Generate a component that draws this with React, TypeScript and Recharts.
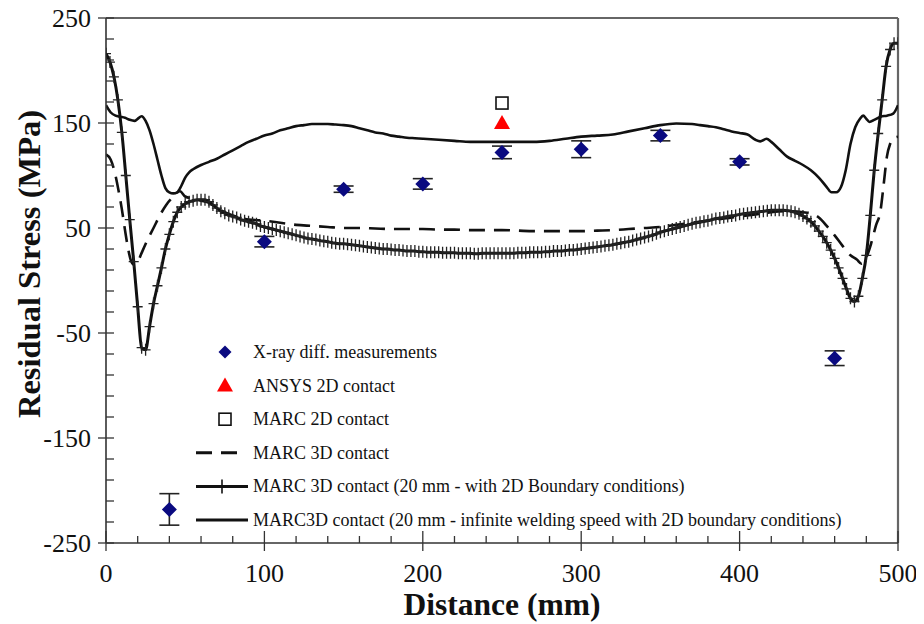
import React from 'react';
import {
  ComposedChart,
  Line,
  Scatter,
  XAxis,
  YAxis,
  ErrorBar,
  ReferenceLine,
  Customized,
} from 'recharts';

// ---- data ----------------------------------------------------------------

// X-ray diffraction measurements: distance (mm), stress (MPa), error (MPa)
const xrayDistance = [40, 100, 150, 200, 250, 300, 350, 400, 460];
const xrayStress = [-218, 37, 87, 92, 122, 125, 138, 113, -74];
const xrayError = [15, 5, 3, 5, 6, 8, 5, 3, 7];

// single-point 2D contact predictions at the weld centre
const ansys2dDistance = [250];
const ansys2dStress = [150];
const marc2dDistance = [250];
const marc2dStress = [169];

// MARC 3D contact
const marc3dDistance = [
  0, 3, 6, 8, 10, 12, 14, 16, 18, 20, 23, 26, 30, 34, 38, 42, 46.7, 50, 55, 60, 65, 70, 80, 90,
  100, 110, 120, 130, 140, 150, 160, 170, 180, 190, 200, 210, 220, 230, 240, 250, 260, 270, 280,
  290, 300, 310, 320, 330, 340, 350, 360, 370, 380, 390, 400, 410, 420, 430, 440, 445, 450, 455,
  460, 465, 470, 474, 477, 480, 483, 486, 489, 491, 493, 495, 497, 500,
];
const marc3dStress = [
  120, 115, 100, 85, 68, 48, 30, 18, 15, 18, 28, 38, 50, 62, 72, 79, 85, 80, 78, 76, 74, 69, 62, 58,
  57, 55, 53, 52, 51, 50, 50, 49.5, 49, 49, 49, 48.5, 48.5, 48, 48, 48, 47.5, 47, 47,
  47, 47, 47.5, 48, 49, 50, 51, 53, 55, 57, 59, 61, 63, 65, 66, 65, 64, 60, 52,
  43, 33, 24, 20, 16, 22, 35, 52, 67, 92, 118, 130, 135, 137,
];

// MARC 3D contact (20 mm - with 2D boundary conditions), sampled every 2.5 mm
const bcStep = 2.5;
const bc2dStress = [
  216, 208, 194, 172, 141, 100, 58, 18, -25, -64, -66, -44, -22, -5, 12, 30, 44, 56, 65, 70,
  73, 75, 76, 77, 77, 77, 75, 72, 69, 66, 64, 62, 61, 60, 58, 57, 56, 55, 54, 52,
  51, 50, 49, 48, 47, 46, 45, 44, 43, 42, 41, 40, 39.5, 39, 38, 37.5, 37, 36, 35.5, 35,
  35, 34.5, 34, 33.5, 33, 32.5, 32, 31.5, 31, 30.5, 30, 30, 29.5, 29, 29, 28.5, 28, 28, 28, 27.5,
  27.5, 27, 27, 27, 27, 26.5, 26.5, 26.5, 26.5, 26, 26, 26, 26, 25.5, 25.5, 26, 26, 26, 26, 26,
  26, 26, 26, 26, 26.5, 26.5, 26.5, 27, 27, 27, 27, 27.5, 27.5, 28, 28, 28, 28.5, 29, 29, 29.5,
  30, 30.5, 31, 31.5, 32, 32.5, 33, 33.5, 34, 35, 35.5, 36.5, 37, 38, 39, 40, 41, 42, 43, 44.5,
  46, 47, 48, 49, 50, 51, 52, 53, 54, 55, 55.5, 56.5, 57, 58, 59, 59.5, 60, 61, 61.5, 62,
  63, 63.5, 64, 64.5, 65, 65.5, 66, 66.5, 67, 67, 67, 67, 66.5, 66, 65, 63.5, 61.5, 59, 56, 52,
  47, 42, 36, 29, 21, 12, 2, -8, -17, -20, -15, 2, 24, 62, 105, 140, 172, 204, 220, 226,
  226,
];

// MARC3D contact (20 mm - infinite welding speed with 2D boundary conditions)
const infDistance = [
  0, 3, 6, 9, 12, 15, 18, 20, 22.5, 25, 27.5, 30, 32.5, 35, 37.5, 40, 42.5, 45, 47.5, 50, 52.5,
  55, 60, 65, 70, 75, 80, 85, 90, 95, 100, 105, 110, 115, 120, 125, 130, 135, 140, 145, 150, 155,
  160, 165, 170, 175, 180, 185, 190, 195, 200, 210, 220, 230, 240, 250, 260, 270, 280, 290, 300,
  310, 320, 330, 340, 350, 360, 370, 375, 380, 385, 390, 395, 400, 405, 410, 413, 417, 420, 425,
  430, 435, 440, 445, 450, 455, 458, 461, 464, 467, 470, 473, 476, 478, 480, 482, 485, 489, 493,
  497, 500,
];
const infStress = [
  167, 160, 157, 156, 155, 153, 152, 154, 156.5, 152, 143, 130, 115, 100, 88, 84, 83, 84, 90, 98,
  103, 106, 110, 113, 116, 120, 124, 128, 132, 135, 138, 140, 143, 145, 147, 148, 149, 149, 149,
  148.5, 148, 147, 145, 143, 141, 140, 138, 137, 136, 135.5, 135, 134, 133, 132, 132, 132, 132,
  132, 133, 135, 137, 138, 139, 142, 145, 148, 149.5, 149, 148, 147, 146, 144, 142, 140.5, 139,
  134, 132.5, 135, 132, 125, 118, 114, 110, 105, 98, 89, 84, 84, 89, 105, 130, 146, 154, 157, 154,
  151, 153, 156, 157, 159, 167,
];

const xTicks = [
  0, 20, 40, 60, 80, 100, 120, 140, 160, 180, 200, 220, 240, 260, 280, 300, 320, 340, 360, 380,
  400, 420, 440, 460, 480, 500,
];
const yTicks = [
  -250, -230, -210, -190, -170, -150, -130, -110, -90, -70, -50, -30, -10, 10, 30, 50, 70, 90,
  110, 130, 150, 170, 190, 210, 230, 250,
];

const legendLabels = [
  'X-ray diff. measurements',
  'ANSYS 2D contact',
  'MARC 2D contact',
  'MARC 3D contact',
  'MARC 3D contact (20 mm - with 2D Boundary conditions)',
  'MARC3D contact (20 mm - infinite welding speed with 2D boundary conditions)',
];

// ---- derived tables ------------------------------------------------------

const pair = (xs: number[], ys: number[]) => xs.map((x, i) => ({ x, y: ys[i] }));

const xrayData = xrayDistance.map((x, i) => ({ x, y: xrayStress[i], err: xrayError[i] }));
const ansysData = pair(ansys2dDistance, ansys2dStress);
const marc2dData = pair(marc2dDistance, marc2dStress);
const marc3dData = pair(marc3dDistance, marc3dStress);
const bc2dData = bc2dStress.map((y, i) => ({ x: i * bcStep, y }));
const infData = pair(infDistance, infStress);

// ---- styling -------------------------------------------------------------

const FONT = '"Liberation Serif", "Times New Roman", Times, serif';
const NAVY = '#0a0a80';
const AXIS = '#333';
const W = 916;
const H = 620;
const MARGIN = { top: 14, right: 26, left: 10, bottom: 11 };

// ---- marks ---------------------------------------------------------------

const Diamond = ({ cx, cy, r = 7.5 }: any) => (
  <polygon
    points={`${cx},${cy - r} ${cx + r},${cy} ${cx},${cy + r} ${cx - r},${cy}`}
    fill={NAVY}
  />
);

const Triangle = ({ cx, cy }: any) => (
  <polygon points={`${cx},${cy - 8} ${cx + 8},${cy + 6} ${cx - 8},${cy + 6}`} fill="#ff0000" />
);

const Square = ({ cx, cy }: any) => (
  <rect x={cx - 6} y={cy - 6} width={12} height={12} fill="#fff" stroke="#111" strokeWidth={1.6} />
);

const PlusDot = (props: any) => {
  const { cx, cy, index } = props;
  if (cx == null || cy == null) return <g key={`pd-${index}`} />;
  return (
    <path
      key={`pd-${index}`}
      d={`M${cx - 5},${cy}h10M${cx},${cy - 6}v12`}
      stroke="#222"
      strokeWidth={1.3}
      fill="none"
    />
  );
};

// ---- axes ----------------------------------------------------------------

const XTick = ({ x, y, payload }: any) => {
  const v = payload.value;
  const major = v % 100 === 0;
  return (
    <g>
      <line
        x1={x}
        x2={x}
        y1={y - (major ? 12 : 7)}
        y2={y + (major ? 8 : 0)}
        stroke={AXIS}
        strokeWidth={1.3}
      />
      {major && (
        <text x={x} y={y + 39} textAnchor="middle" fontSize={26} fontFamily={FONT} fill="#111">
          {v}
        </text>
      )}
    </g>
  );
};

const YTick = ({ x, y, payload }: any) => {
  const v = payload.value;
  const major = (v + 250) % 100 === 0;
  return (
    <g>
      <line
        x1={x - (major ? 8 : 0)}
        x2={x + 8}
        y1={y}
        y2={y}
        stroke={AXIS}
        strokeWidth={1.3}
      />
      {major && (
        <text x={x - 15} y={y + 9} textAnchor="end" fontSize={26} fontFamily={FONT} fill="#111">
          {v}
        </text>
      )}
    </g>
  );
};

// ---- legend block --------------------------------------------------------

const LegendBlock = () => {
  const left = 180;
  const top = 348;
  const gap = 33.6;
  const iconX = 37;
  const textX = 65;
  return (
    <g transform={`translate(${left},${top})`} fontFamily={FONT}>
      {legendLabels.map((label, i) => {
        const y = i * gap;
        let icon: React.ReactNode = null;
        if (i === 0) icon = <Diamond cx={iconX} cy={y} r={6.5} />;
        if (i === 1) icon = <Triangle cx={iconX} cy={y} />;
        if (i === 2) icon = <Square cx={iconX} cy={y} />;
        if (i === 3)
          icon = (
            <line x1={8} x2={58} y1={y} y2={y} stroke="#111" strokeWidth={3} strokeDasharray="16 9" />
          );
        if (i === 4)
          icon = (
            <g>
              <line x1={8} x2={60} y1={y} y2={y} stroke="#111" strokeWidth={3} />
              <line x1={34} x2={34} y1={y - 7} y2={y + 7} stroke="#111" strokeWidth={1.6} />
            </g>
          );
        if (i === 5) icon = <line x1={8} x2={60} y1={y} y2={y} stroke="#111" strokeWidth={3} />;
        return (
          <g key={label}>
            {icon}
            <text x={textX} y={y + 6} fontSize={18} fill="#111">
              {label}
            </text>
          </g>
        );
      })}
    </g>
  );
};

const AxisTitles = () => (
  <g fontFamily={FONT} fontWeight="bold" fill="#111">
    <text x={494} y={611} textAnchor="middle" fontSize={31.5}>
      Distance (mm)
    </text>
    <text
      x={0}
      y={0}
      transform="translate(32,260) rotate(-90)"
      textAnchor="middle"
      fontSize={32.5}
    >
      Residual Stress (MPa)
    </text>
  </g>
);

// ---- chart ---------------------------------------------------------------

export default function App() {
  return (
    <div style={{ width: W, height: H, marginTop: -4, background: '#fff' }}>
      <ComposedChart width={W} height={H} margin={MARGIN}>
        <XAxis
          type="number"
          dataKey="x"
          domain={[0, 500]}
          ticks={xTicks}
          interval={0}
          height={70}
          tickSize={0}
          tickMargin={0}
          tick={<XTick />}
          axisLine={{ stroke: AXIS, strokeWidth: 1.6 }}
          tickLine={false}
          allowDataOverflow
        />
        <YAxis
          type="number"
          dataKey="y"
          domain={[-250, 250]}
          ticks={yTicks}
          interval={0}
          width={88}
          tickSize={0}
          tickMargin={0}
          tick={<YTick />}
          axisLine={{ stroke: AXIS, strokeWidth: 1.6 }}
          tickLine={false}
          allowDataOverflow
        />
        <ReferenceLine y={250} stroke="#666" strokeWidth={2.2} />
        <ReferenceLine x={500} stroke="#666" strokeWidth={2.2} />

        <Line
          data={infData}
          dataKey="y"
          type="monotone"
          stroke="#111"
          strokeWidth={2.6}
          dot={false}
          activeDot={false}
          isAnimationActive={false}
        />
        <Line
          data={marc3dData}
          dataKey="y"
          type="monotone"
          stroke="#111"
          strokeWidth={2.6}
          strokeDasharray="16 9"
          dot={false}
          activeDot={false}
          isAnimationActive={false}
        />
        <Line
          data={bc2dData}
          dataKey="y"
          type="monotone"
          stroke="#111"
          strokeWidth={3}
          dot={PlusDot}
          activeDot={false}
          isAnimationActive={false}
        />

        <Scatter data={xrayData} dataKey="y" shape={<Diamond />} isAnimationActive={false}>
          <ErrorBar
            dataKey="err"
            direction="y"
            width={10}
            stroke="#222"
            strokeWidth={1.6}
            isAnimationActive={false}
          />
        </Scatter>
        <Scatter data={ansysData} dataKey="y" shape={<Triangle />} isAnimationActive={false} />
        <Scatter data={marc2dData} dataKey="y" shape={<Square />} isAnimationActive={false} />

        <Customized component={LegendBlock} />
        <Customized component={AxisTitles} />
      </ComposedChart>
    </div>
  );
}
